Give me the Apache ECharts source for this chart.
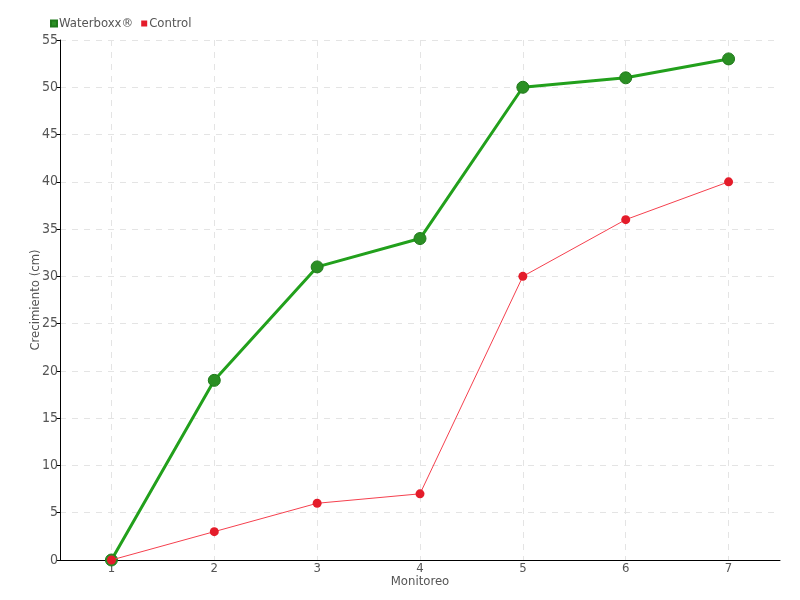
<!DOCTYPE html>
<html><head><meta charset="utf-8">
<script src="https://cdn.jsdelivr.net/npm/echarts@6/dist/echarts.min.js"></script>
<style>html,body{margin:0;padding:0;background:#fff}#c{width:800px;height:600px}</style>
</head><body><div id="c"></div>
<script>
const categories = ['1','2','3','4','5','6','7'];
const waterboxx = [0, 19, 31, 34, 50, 51, 53];
const control = [0, 3, 6, 7, 30, 36, 40];
const FONT = "'DejaVu Sans Condensed','Liberation Sans Narrow',sans-serif";
const chart = echarts.init(document.getElementById('c'));
chart.setOption({
  animation: false,
  textStyle: {fontFamily: FONT},
  legend: {
    left: 45, top: 12, itemWidth: 6, itemHeight: 6, itemGap: 8,
    icon: 'rect',
    textStyle: {fontFamily: FONT, fontSize: 13, color: '#555', padding: [0,0,0,-3]},
    data: ['Waterboxx®', 'Control']
  },
  grid: {left: 60, right: 20, top: 40, bottom: 40, containLabel: false},
  xAxis: {
    type: 'category', data: categories, boundaryGap: true,
    name: 'Monitoreo', nameLocation: 'middle', nameGap: 15, nameMoveOverlap: false,
    nameTextStyle: {fontFamily: FONT, fontSize: 13, color: '#555'},
    axisLine: {lineStyle: {color: '#000', width: 1}},
    axisTick: {alignWithLabel: true, length: 4, lineStyle: {color: '#000'}},
    axisLabel: {fontFamily: FONT, fontSize: 13, color: '#555', margin: 2},
    splitLine: {show: true, alignWithLabel: true, lineStyle: {color: '#e4e4e4', type: [6,6], width: 1}}
  },
  yAxis: {
    type: 'value', min: 0, max: 55, interval: 5,
    name: 'Crecimiento (cm)', nameLocation: 'middle', nameGap: 18, nameMoveOverlap: false,
    nameTextStyle: {fontFamily: FONT, fontSize: 13, color: '#555'},
    axisLine: {show: true, lineStyle: {color: '#000', width: 1}},
    axisTick: {show: true, length: 4, lineStyle: {color: '#000'}},
    axisLabel: {fontFamily: FONT, fontSize: 14, color: '#555', margin: 2},
    splitLine: {show: true, lineStyle: {color: '#e4e4e4', type: [6,6], width: 1}}
  },
  series: [
    {
      name: 'Waterboxx®', type: 'line', data: waterboxx,
      symbol: 'circle', symbolSize: 12,
      lineStyle: {color: '#22a01c', width: 3},
      itemStyle: {color: '#2b8f24', borderColor: '#1f7a1a', borderWidth: 1},
      z: 2
    },
    {
      name: 'Control', type: 'line', data: control,
      symbol: 'circle', symbolSize: 9,
      lineStyle: {color: '#f5404e', width: 1},
      itemStyle: {color: '#e41c2a'},
      z: 3
    }
  ]
});
</script></body></html>
